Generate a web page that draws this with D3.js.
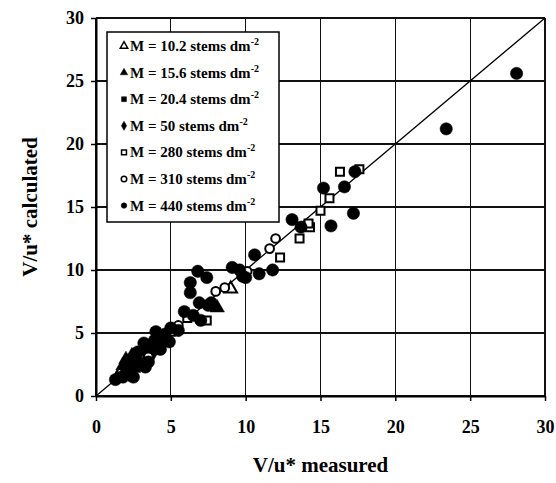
<!DOCTYPE html>
<html>
<head>
  <meta charset="utf-8">
  <style>
    body { margin: 0; background: #fff; }
    .grid line { stroke: #111; stroke-width: 1.3; shape-rendering: crispEdges; }
    .axis path { stroke: #000; stroke-width: 2; }
    .axis line { stroke: #000; stroke-width: 1.5; }
  </style>
</head>
<body>
  <script src="https://d3js.org/d3.v7.min.js"></script>
  <script>
    // tick values and series
    var ticks = [0, 5, 10, 15, 20, 25, 30];

    var m440 = [[28.1,25.6],[23.4,21.2],[15.2,16.5],[16.6,16.6],[17.3,17.8],[17.2,14.5],[13.1,14.0],
      [13.7,13.4],[15.7,13.5],[11.8,10.0],[10.6,11.2],[9.1,10.2],[9.6,10.0],[9.8,9.5],[10.9,9.7],
      [10.0,9.4],[6.8,9.9],[7.4,9.4],[6.3,9.0],[6.3,8.2],[6.9,7.4],[7.5,7.2],[7.7,7.4],[5.9,6.7],
      [6.5,6.4],[7.0,6.0],[5.0,5.4],[5.5,5.2],[4.0,5.1],[4.9,4.3],[3.2,4.2],[3.7,3.9],[4.3,3.7],
      [2.8,3.5],[2.5,2.9],[2.3,2.3],[2.0,1.8],[1.8,1.5],[1.3,1.3],[3.0,2.6],[3.3,2.3],[3.5,2.7],
      [2.5,1.5],[4.6,4.9],[3.9,4.4]];
    var m310 = [[12.0,12.5],[11.6,11.7],[10.1,9.9],[8.0,8.3],[8.6,8.6],[4.1,3.7],[3.5,3.1],[5.5,5.6],[2.9,3.0]];
    var m280 = [[16.3,17.8],[17.6,18.0],[15.6,15.7],[15.0,14.7],[14.3,13.4],[14.2,13.7],[13.6,12.5],
      [12.3,11.0],[7.4,6.0],[5.0,5.1],[6.1,6.2]];
    var m50 = [[2.6,2.4],[3.0,3.4],[3.8,3.4],[4.5,4.2],[2.2,1.8],[4.4,4.6]];
    var m204 = [[2.0,2.1],[2.7,2.2],[3.1,3.0],[3.4,3.6],[1.6,1.6]];
    var m156 = [[8.1,7.0],[2.0,2.9],[2.4,3.2],[1.8,2.4]];
    var m102 = [[9.0,8.5],[2.2,2.7],[1.7,2.0]];

    var seriesNames = ["M = 10.2 stems dm", "M = 15.6 stems dm", "M = 20.4 stems dm", "M = 50 stems dm",
      "M = 280 stems dm", "M = 310 stems dm", "M = 440 stems dm"];

    var serif = "'Liberation Serif', Tinos, 'Times New Roman', Times, 'Nimbus Roman', 'DejaVu Serif', serif";

    var series = [
      {name: seriesNames[0], data: m102, sym: d3.symbolTriangle, size: 70, fill: "#fff"},
      {name: seriesNames[1], data: m156, sym: d3.symbolTriangle, size: 90, fill: "#000"},
      {name: seriesNames[2], data: m204, sym: d3.symbolSquare, size: 70, fill: "#000"},
      {name: seriesNames[3], data: m50, sym: d3.symbolDiamond, size: 80, fill: "#000"},
      {name: seriesNames[4], data: m280, sym: d3.symbolSquare, size: 64, fill: "#fff"},
      {name: seriesNames[5], data: m310, sym: d3.symbolCircle, size: 60, fill: "#fff"},
      {name: seriesNames[6], data: m440, sym: d3.symbolCircle, size: 120, fill: "#000"}
    ];

    var margin = {top: 18, right: 11, bottom: 87, left: 96},
        width = 556 - margin.left - margin.right,
        height = 483 - margin.top - margin.bottom;

    var x = d3.scaleLinear().domain([0, 30]).range([0, width]),
        y = d3.scaleLinear().domain([0, 30]).range([height, 0]);

    var svg = d3.select("body").append("svg")
        .attr("width", 556)
        .attr("height", 483)
        .attr("font-family", serif)
        .attr("font-weight", "bold");

    var g = svg.append("g")
        .attr("transform", "translate(" + margin.left + "," + margin.top + ")");

    // grid
    var grid = g.append("g").attr("class", "grid");
    grid.selectAll("line.h").data(ticks).enter().append("line").attr("class", "h")
        .attr("x1", 0).attr("x2", width)
        .attr("y1", function(d) { return y(d); }).attr("y2", function(d) { return y(d); });
    grid.selectAll("line.v").data(ticks).enter().append("line").attr("class", "v")
        .attr("y1", 0).attr("y2", height)
        .attr("x1", function(d) { return x(d); }).attr("x2", function(d) { return x(d); });

    // axes
    var xa = g.append("g").attr("class", "axis")
      .attr("transform", "translate(0," + height + ")")
      .call(d3.axisBottom(x).tickValues(ticks).tickSizeInner(5).tickSizeOuter(0).tickPadding(19));
    var ya = g.append("g").attr("class", "axis")
      .call(d3.axisLeft(y).tickValues(ticks).tickSizeInner(5).tickSizeOuter(0).tickPadding(7));
    [xa, ya].forEach(function(a) {
      a.attr("font-family", serif).attr("font-size", 18);
      a.selectAll("text").style("font-family", serif).style("font-weight", "bold").attr("fill", "#000");
    });

    // 1:1 line
    g.append("line")
      .attr("x1", x(0)).attr("y1", y(0)).attr("x2", x(30)).attr("y2", y(30))
      .attr("stroke", "#000").attr("stroke-width", 1.3);

    // points
    series.forEach(function(s) {
      g.selectAll(null).data(s.data).enter().append("path")
        .attr("d", d3.symbol().type(s.sym).size(s.size))
        .attr("transform", function(d) { return "translate(" + x(d[0]) + "," + y(d[1]) + ")"; })
        .attr("fill", s.fill)
        .attr("stroke", "#000")
        .attr("stroke-width", s.fill === "#fff" ? 2 : 0.5);
    });

    // legend
    var lg = svg.append("g").attr("transform", "translate(107,32)");
    lg.append("rect").attr("width", 172).attr("height", 190)
      .attr("fill", "#fff").attr("stroke", "#000").attr("stroke-width", 1.5);
    series.forEach(function(s, i) {
      var row = lg.append("g").attr("transform", "translate(0," + (14 + i * 26.6) + ")");
      row.append("path")
        .attr("d", d3.symbol().type(s.sym).size(24))
        .attr("transform", "translate(17,0)")
        .attr("fill", s.fill).attr("stroke", "#000").attr("stroke-width", s.fill === "#fff" ? 1.5 : 0.5);
      var t = row.append("text").attr("x", 23).attr("y", 5)
        .style("font-family", serif).style("font-size", "15px").text(s.name);
      t.append("tspan").attr("dy", -6).style("font-size", "10px").text("-2");
    });

    // titles
    svg.append("text")
      .attr("x", margin.left + width / 2).attr("y", 472)
      .attr("text-anchor", "middle").style("font-family", serif).style("font-size", "21px")
      .text("V/u* measured");
    svg.append("text")
      .attr("transform", "translate(37," + (margin.top + height / 2) + ") rotate(-90)")
      .attr("text-anchor", "middle").style("font-family", serif).style("font-size", "21px")
      .text("V/u* calculated");
  </script>
</body>
</html>
